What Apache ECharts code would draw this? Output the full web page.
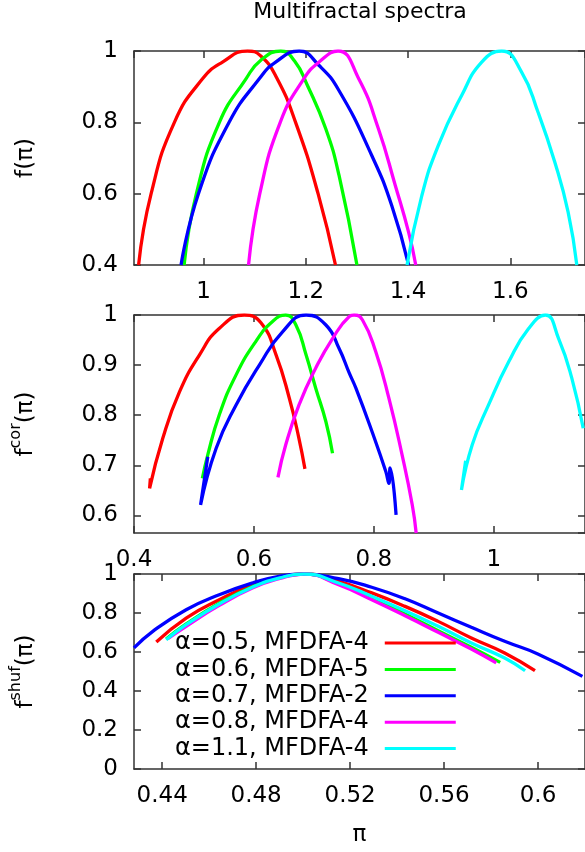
<!DOCTYPE html>
<html>
<head>
<meta charset="utf-8">
<script src="https://cdn.jsdelivr.net/npm/echarts@6/dist/echarts.min.js"></script>
<style>
  html, body { margin: 0; padding: 0; background: #fff; }
  #main { width: 585px; height: 852px; }
</style>
</head>
<body>
<div id="main"></div>
<script>
// legend labels and line colours (gnuplot default set)
var labels = ['α=0.5, MFDFA-4', 'α=0.6, MFDFA-5', 'α=0.7, MFDFA-2', 'α=0.8, MFDFA-4', 'α=1.1, MFDFA-4'];
var colors = ['#ff0000', '#00ff00', '#0000ff', '#ff00ff', '#00ffff'];

// top panel: f(pi), pairs of [pi, f]
var f05 = [[0.873, 0.400], [0.8975, 0.600], [0.943, 0.800], [0.998, 0.922], [1.037, 0.969], [1.086, 1.000], [1.112, 0.986], [1.143, 0.925], [1.180, 0.800], [1.224, 0.600], [1.258, 0.400]];
var f06 = [[0.962, 0.400], [0.986, 0.600], [1.031, 0.800], [1.083, 0.922], [1.112, 0.974], [1.151, 1.000], [1.178, 0.972], [1.203, 0.904], [1.239, 0.782], [1.265, 0.651], [1.300, 0.400]];
var f07 = [[0.956, 0.400], [0.990, 0.600], [1.050, 0.800], [1.109, 0.922], [1.141, 0.969], [1.187, 1.000], [1.2255, 0.960], [1.2645, 0.890], [1.329, 0.707], [1.368, 0.567], [1.401, 0.400]];
var f08 = [[1.088, 0.400], [1.110, 0.600], [1.150, 0.800], [1.196, 0.922], [1.226, 0.969], [1.263, 1.000], [1.3035, 0.922], [1.342, 0.782], [1.375, 0.623], [1.401, 0.492], [1.415, 0.400]];
var f11 = [[1.398, 0.400], [1.427, 0.595], [1.459, 0.735], [1.505, 0.876], [1.544, 0.969], [1.583, 1.000], [1.622, 0.941], [1.654, 0.829], [1.687, 0.688], [1.713, 0.548], [1.730, 0.400]];

// middle panel: f^cor(pi)
var cor05 = [[0.4273, 0.674], [0.426, 0.654], [0.448, 0.754], [0.476, 0.847], [0.509, 0.920], [0.542, 0.973], [0.584, 1.000], [0.612, 0.984], [0.637, 0.920], [0.659, 0.834], [0.675, 0.754], [0.685, 0.693]];
var cor06 = [[0.514, 0.674], [0.523, 0.721], [0.542, 0.800], [0.570, 0.880], [0.603, 0.947], [0.631, 0.987], [0.653, 1.000], [0.670, 0.980], [0.687, 0.920], [0.703, 0.854], [0.720, 0.787], [0.731, 0.724]];
var cor07 = [[0.523, 0.717], [0.511, 0.621], [0.537, 0.734], [0.570, 0.820], [0.609, 0.900], [0.648, 0.967], [0.687, 1.000], [0.720, 0.980], [0.742, 0.933], [0.759, 0.884], [0.770, 0.854], [0.797, 0.767], [0.820, 0.687], [0.825, 0.664], [0.827, 0.695], [0.837, 0.601]];
var cor08 = [[0.640, 0.676], [0.653, 0.741], [0.675, 0.820], [0.703, 0.894], [0.731, 0.953], [0.759, 0.997], [0.767, 1.000], [0.781, 0.990], [0.803, 0.927], [0.825, 0.834], [0.847, 0.721], [0.864, 0.621], [0.8705, 0.565]];
var cor11 = [[0.953, 0.709], [0.946, 0.651], [0.964, 0.741], [0.991, 0.820], [1.025, 0.907], [1.058, 0.973], [1.086, 1.000], [1.108, 0.953], [1.130, 0.874], [1.149, 0.774]];

// bottom panel: f^shuf(pi)
var shuf05 = [[0.4375, 0.651], [0.4502, 0.774], [0.4643, 0.868], [0.4784, 0.945], [0.4897, 0.983], [0.5003, 1.000], [0.5151, 0.962], [0.5292, 0.903], [0.5434, 0.834], [0.5575, 0.757], [0.5716, 0.672], [0.5858, 0.595], [0.5987, 0.504]];
var shuf06 = [[0.4417, 0.667], [0.4502, 0.744], [0.4643, 0.850], [0.4784, 0.935], [0.4897, 0.981], [0.5003, 1.000], [0.5151, 0.950], [0.5292, 0.877], [0.5434, 0.795], [0.5575, 0.709], [0.5716, 0.624], [0.5839, 0.547]];
var shuf07 = [[0.428, 0.621], [0.436, 0.706], [0.4502, 0.817], [0.4643, 0.894], [0.4784, 0.954], [0.4897, 0.988], [0.5003, 1.000], [0.5151, 0.976], [0.5292, 0.932], [0.5434, 0.873], [0.5575, 0.800], [0.5716, 0.727], [0.5858, 0.655], [0.5999, 0.590], [0.6189, 0.475]];
var shuf08 = [[0.4424, 0.668], [0.4502, 0.732], [0.4643, 0.839], [0.4784, 0.928], [0.4897, 0.976], [0.5003, 1.000], [0.5151, 0.945], [0.5292, 0.868], [0.5434, 0.786], [0.5575, 0.701], [0.5716, 0.615], [0.5822, 0.544]];
var shuf11 = [[0.4417, 0.663], [0.4502, 0.740], [0.4643, 0.846], [0.4784, 0.932], [0.4897, 0.979], [0.5003, 1.000], [0.5151, 0.954], [0.5292, 0.886], [0.5434, 0.812], [0.5575, 0.732], [0.5716, 0.646], [0.5858, 0.569], [0.5945, 0.504]];

// axis ranges [min, max, step] per panel
var xRange = [[0.864, 1.746, 0.2], [0.4, 1.152, 0.2], [0.428, 0.62, 0.04]];
var yRange = [[0.4, 1, 0.2], [0.565, 1, 0.1], [0, 1, 0.2]];
var yNames = ['{b|f(π)}', '{b|f}{s|cor}{b|(π)}', '{b|f}{s|shuf}{b|(π)}'];

var panels = [
  [f05, f06, f07, f08, f11],
  [cor05, cor06, cor07, cor08, cor11],
  [shuf05, shuf06, shuf07, shuf08, shuf11]
];

var font = 'DejaVu Sans';
var frame = '#333333';

function fmt(step) {
  return function (v) {
    var k = v / step;
    return Math.abs(k - Math.round(k)) < 1e-6 ? String(+v.toFixed(3)) : '';
  };
}

function makeAxis(grid, r, pos, withLabels) {
  return {
    type: 'value',
    gridIndex: grid,
    position: pos,
    min: r[0],
    max: r[1],
    minInterval: r[2],
    maxInterval: r[2],
    splitLine: { show: false },
    axisLine: { show: true, onZero: false, lineStyle: { color: frame, width: 1.5 } },
    axisTick: { show: true, inside: true, length: 7, lineStyle: { color: frame, width: 1.5 } },
    axisLabel: {
      show: withLabels,
      margin: 16,
      color: '#000',
      fontFamily: font,
      fontSize: 23,
      showMinLabel: r[0] % r[2] === 0,
      showMaxLabel: false,
      formatter: fmt(r[2])
    }
  };
}

var grids = [
  { left: 134, top: 51, width: 453, height: 214 },
  { left: 134, top: 315, width: 453, height: 218 },
  { left: 134, top: 574, width: 453, height: 195 }
];

var xAxes = [];
var yAxes = [];
var series = [];
for (var p = 0; p < 3; p++) {
  var xb = makeAxis(p, xRange[p], 'bottom', true);
  var xt = makeAxis(p, xRange[p], 'top', false);
  var yl = makeAxis(p, yRange[p], 'left', true);
  var yr = makeAxis(p, yRange[p], 'right', false);
  yl.axisLabel.showMinLabel = (p !== 1);
  yl.axisLabel.showMaxLabel = true;
  yl.name = yNames[p];
  yl.nameLocation = 'middle';
  yl.nameRotate = 90;
  yl.nameGap = 96;
  yl.nameTextStyle = {
    color: '#000',
    rich: {
      b: { fontFamily: font, fontSize: 23, color: '#000', verticalAlign: 'bottom', lineHeight: 30 },
      s: { fontFamily: font, fontSize: 16, color: '#000', verticalAlign: 'top', lineHeight: 30 }
    }
  };
  if (p === 2) {
    xb.name = 'π';
    xb.nameLocation = 'middle';
    xb.nameGap = 55;
    xb.nameTextStyle = { color: '#000', fontFamily: font, fontSize: 23 };
  }
  xAxes.push(xb, xt);
  yAxes.push(yl, yr);

  panels[p].forEach(function (pts, i) {
    series.push({
      type: 'line',
      name: labels[i],
      xAxisIndex: 2 * p,
      yAxisIndex: 2 * p,
      data: pts,
      symbol: 'none',
      showSymbol: false,
      smooth: 0.5,
      clip: true,
      lineStyle: { color: colors[i], width: 3.3 },
      itemStyle: { color: colors[i] }
    });
  });
}

var chart = echarts.init(document.getElementById('main'), null, { renderer: 'canvas' });
chart.setOption({
  animation: false,
  backgroundColor: '#fff',
  title: {
    text: 'Multifractal spectra',
    left: 360,
    top: 1,
    padding: 0,
    textAlign: 'center',
    textStyle: { color: '#000', fontFamily: font, fontSize: 22, fontWeight: 'normal' }
  },
  legend: {
    data: labels,
    orient: 'vertical',
    align: 'right',
    left: 175,
    top: 631,
    padding: 0,
    itemGap: 2.4,
    itemWidth: 71,
    itemHeight: 3,
    icon: 'rect',
    selectedMode: false,
    textStyle: { color: '#000', fontFamily: font, fontSize: 24, lineHeight: 24, padding: [0, 11, 0, 0] }
  },
  grid: grids,
  xAxis: xAxes,
  yAxis: yAxes,
  series: series
});
</script>
</body>
</html>
